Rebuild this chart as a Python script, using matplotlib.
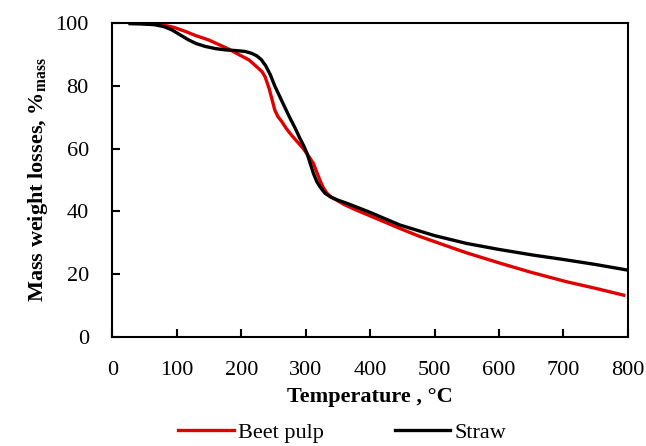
import matplotlib
matplotlib.use("Agg")
import matplotlib.pyplot as plt
from matplotlib.lines import Line2D

# Beet pulp TG curve (temperature, °C / remaining mass, %)
beet_t = [25, 50, 77, 95, 113, 130, 149, 165, 180, 198, 212, 224, 232, 237, 243,
          248, 252, 257, 263, 270, 278, 287, 296, 304, 312, 317, 322, 327, 333,
          340, 348, 360, 379, 400, 446, 475, 508, 550, 602, 650, 705, 750, 796]
beet_m = [99.9, 99.8, 99.5, 98.7, 97.4, 96.0, 94.7, 93.2, 91.8, 89.8, 88.3, 86.1,
          84.6, 82.9, 79.3, 75.5, 72.3, 70.2, 68.6, 66.4, 64.3, 62.2, 60.1, 57.8,
          55.3, 52.6, 50.0, 47.7, 45.8, 44.5, 43.6, 42.2, 40.4, 38.6, 34.6, 32.2,
          29.8, 26.8, 23.5, 20.6, 17.6, 15.5, 13.2]

# Straw TG curve
straw_t = [25, 45, 66, 80, 92, 105, 118, 130, 144, 160, 175, 190, 206, 216, 224,
           231, 238, 245, 252, 260, 268, 276, 284, 291, 297, 302, 307, 312, 317,
           322, 330, 338, 350, 364, 384, 400, 446, 500, 550, 600, 653, 700, 750,
           800]
straw_m = [99.9, 99.8, 99.5, 98.9, 97.9, 96.3, 94.7, 93.5, 92.6, 91.9, 91.5, 91.3,
           91.0, 90.4, 89.6, 88.4, 86.4, 83.6, 80.0, 76.5, 73.0, 69.6, 66.4, 63.3,
           60.9, 58.5, 55.3, 52.1, 49.6, 47.9, 45.8, 44.7, 43.6, 42.6, 41.0, 39.7,
           35.7, 32.3, 29.8, 27.9, 26.1, 24.7, 23.1, 21.3]

x_ticks = [0, 100, 200, 300, 400, 500, 600, 700, 800]
y_ticks = [0, 20, 40, 60, 80, 100]

plt.rcParams["font.family"] = ["Liberation Serif", "DejaVu Serif"]
plt.rcParams["mathtext.fontset"] = "custom"
plt.rcParams["mathtext.rm"] = "Liberation Serif"
plt.rcParams["mathtext.bf"] = "Liberation Serif:bold"

fig = plt.figure(figsize=(6.46, 4.46), dpi=100)
ax = fig.add_axes([0.174, 0.2444, 0.798, 0.7036])

red = "#e00000"
ax.plot(beet_t, beet_m, color=red, lw=2.4, solid_capstyle="butt",
        solid_joinstyle="round")
ax.plot(straw_t, straw_m, color="black", lw=2.4, solid_capstyle="butt",
        solid_joinstyle="round")

ax.set_xlim(0, 800)
ax.set_ylim(0, 100)
ax.set_xticks(x_ticks)
ax.set_yticks(y_ticks)
ax.tick_params(direction="in", length=6, width=1.5, labelsize=16, pad=17,
               top=False, right=False)
for s in ax.spines.values():
    s.set_linewidth(1.5)

ax.set_xlabel("Temperature , °C", fontsize=16, fontweight="bold", labelpad=5)
ax.set_ylabel(r"Mass weight losses, %$_{\mathbf{mass}}$", fontsize=16,
              fontweight="bold", labelpad=4)

handles = [Line2D([], [], color=red, lw=2.4),
           Line2D([], [], color="black", lw=2.4)]
fig.legend(handles, ["Beet pulp", "Straw"], loc="center",
           bbox_to_anchor=(0.53, 0.03), ncol=2, frameon=False, fontsize=16,
           handlelength=2.5, handletextpad=0.2, columnspacing=3.2)

fig.savefig("out.png", dpi=100)
